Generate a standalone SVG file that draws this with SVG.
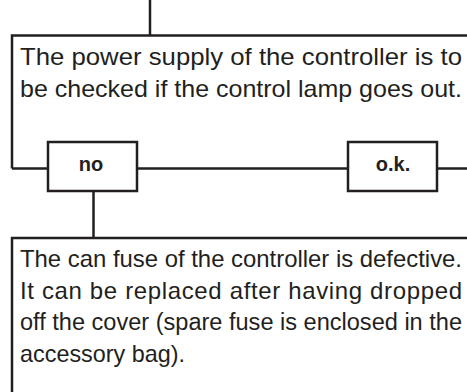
<svg xmlns="http://www.w3.org/2000/svg" width="467" height="392" viewBox="0 0 467 392">
<style>
.ln{fill:none;stroke:#231f20;stroke-width:2.5;stroke-linecap:butt}
.bx{fill:#fff;stroke:#231f20;stroke-width:2.5}
.t{font-family:"Liberation Sans",Arial,sans-serif;font-size:24px;fill:#231f20}
.b{font-family:"Liberation Sans",Arial,sans-serif;font-weight:bold;font-size:20px;fill:#231f20;text-anchor:middle}
</style>
<rect width="467" height="392" fill="#fff"/>
<g id="connectors">
<path class="ln" d="M150,0 V35.5"/>
<path class="ln" d="M12,168.5 H48"/>
<path class="ln" d="M137,168.5 H348"/>
<path class="ln" d="M437,168.5 H467"/>
<path class="ln" d="M93.5,191 V238"/>
</g>
<g id="node-power">
<path class="ln" d="M467,35.5 H12 V168.5"/>
<text class="t" x="20" y="65" textLength="442" lengthAdjust="spacingAndGlyphs">The power supply of the controller is to</text>
<text class="t" x="20" y="96.5" textLength="442" lengthAdjust="spacingAndGlyphs">be checked if the control lamp goes out.</text>
</g>
<g id="node-no">
<rect class="bx" x="48" y="142" width="89" height="49"/>
<text class="b" x="91" y="170.5">no</text>
</g>
<g id="node-ok">
<rect class="bx" x="348" y="142" width="89" height="49"/>
<text class="b" x="393" y="170.5">o.k.</text>
</g>
<g id="node-fuse">
<path class="ln" d="M467,238 H12 V392"/>
<text class="t" x="20" y="267" textLength="442" lengthAdjust="spacingAndGlyphs">The can fuse of the controller is defective.</text>
<text class="t" x="20" y="298.5" textLength="442" lengthAdjust="spacing">It can be replaced after having dropped</text>
<text class="t" x="20" y="330" style="font-size:23.5px" textLength="442" lengthAdjust="spacingAndGlyphs">off the cover (spare fuse is enclosed in the</text>
<text class="t" x="20" y="362" textLength="165" lengthAdjust="spacingAndGlyphs">accessory bag).</text>
</g>
</svg>
